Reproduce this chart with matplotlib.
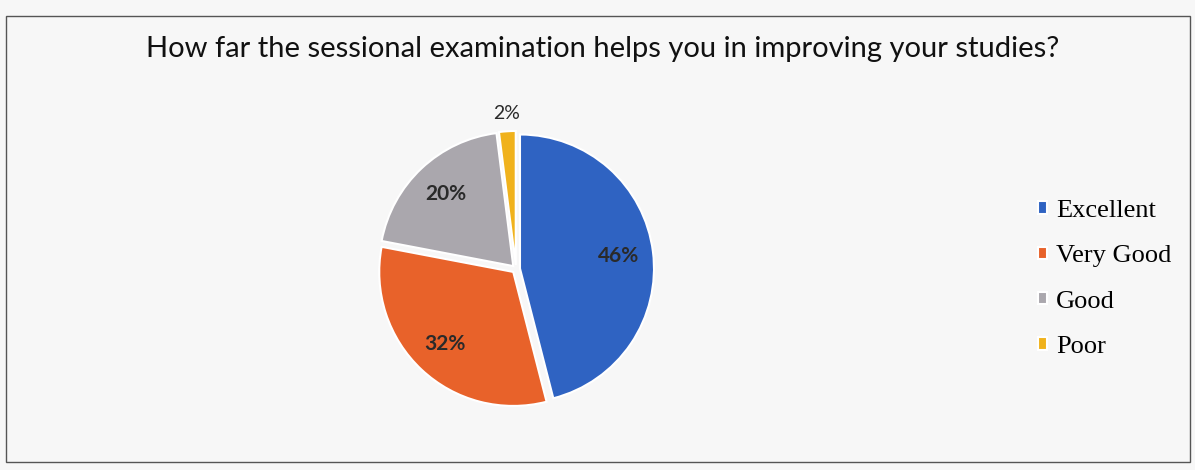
import numpy as np
import matplotlib.pyplot as plt
from matplotlib.patches import Rectangle

title = "How far the sessional examination helps you in improving your studies?"
labels = ["Excellent", "Very Good", "Good", "Poor"]
shares = [46, 32, 20, 2]
colors = ["#2f63c2", "#e8622a", "#aaa7ad", "#f0b21c"]

W, H = 1195, 470
fig = plt.figure(figsize=(W / 100, H / 100), dpi=100)
fig.patch.set_facecolor("#f7f7f7")

# outer frame of the chart
fig.patches.append(Rectangle((6 / W, 1 - 462 / H), 1184 / W, 446 / H,
                             transform=fig.transFigure, fill=False,
                             edgecolor="#555555", lw=1.0))

fig.text(603 / W, 1 - 57 / H, title, ha="center", va="baseline",
         fontsize=21, family="Lato", color="#111111")

# pie: centre ~ (516, 269), radius ~ 134 px
box = 300
ax = fig.add_axes([(516 - box / 2) / W, 1 - (269 + box / 2) / H, box / W, box / H])

wedges, texts, autotexts = ax.pie(shares, colors=colors, startangle=90, counterclock=False,
                                  explode=[0.03] * 4, autopct="%d%%", pctdistance=0.74,
                                  wedgeprops=dict(edgecolor="white", linewidth=1.5),
                                  textprops=dict(fontsize=15, fontweight="bold",
                                                 family="Lato", color="#2a2a2a"))
lim = (box / 2) / 134
ax.set_xlim(-lim, lim)
ax.set_ylim(-lim, lim)
ax.set_aspect("equal")
ax.axis("off")

# small slice gets its label outside
for w, t, v in zip(wedges, autotexts, shares):
    if v < 5:
        mid = np.deg2rad((w.theta1 + w.theta2) / 2)
        t.set_position((1.16 * np.cos(mid), 1.16 * np.sin(mid)))
        t.set_fontweight("normal")
        t.set_fontsize(14)

fig.legend(wedges, labels, loc="center left", bbox_to_anchor=(1014 / W, 1 - 279 / H),
           frameon=False, prop=dict(family="Liberation Serif", size=19),
           handlelength=0.35, handleheight=0.35, handletextpad=0.35, labelspacing=0.88)

fig.savefig("out.png", dpi=100, facecolor=fig.get_facecolor())
